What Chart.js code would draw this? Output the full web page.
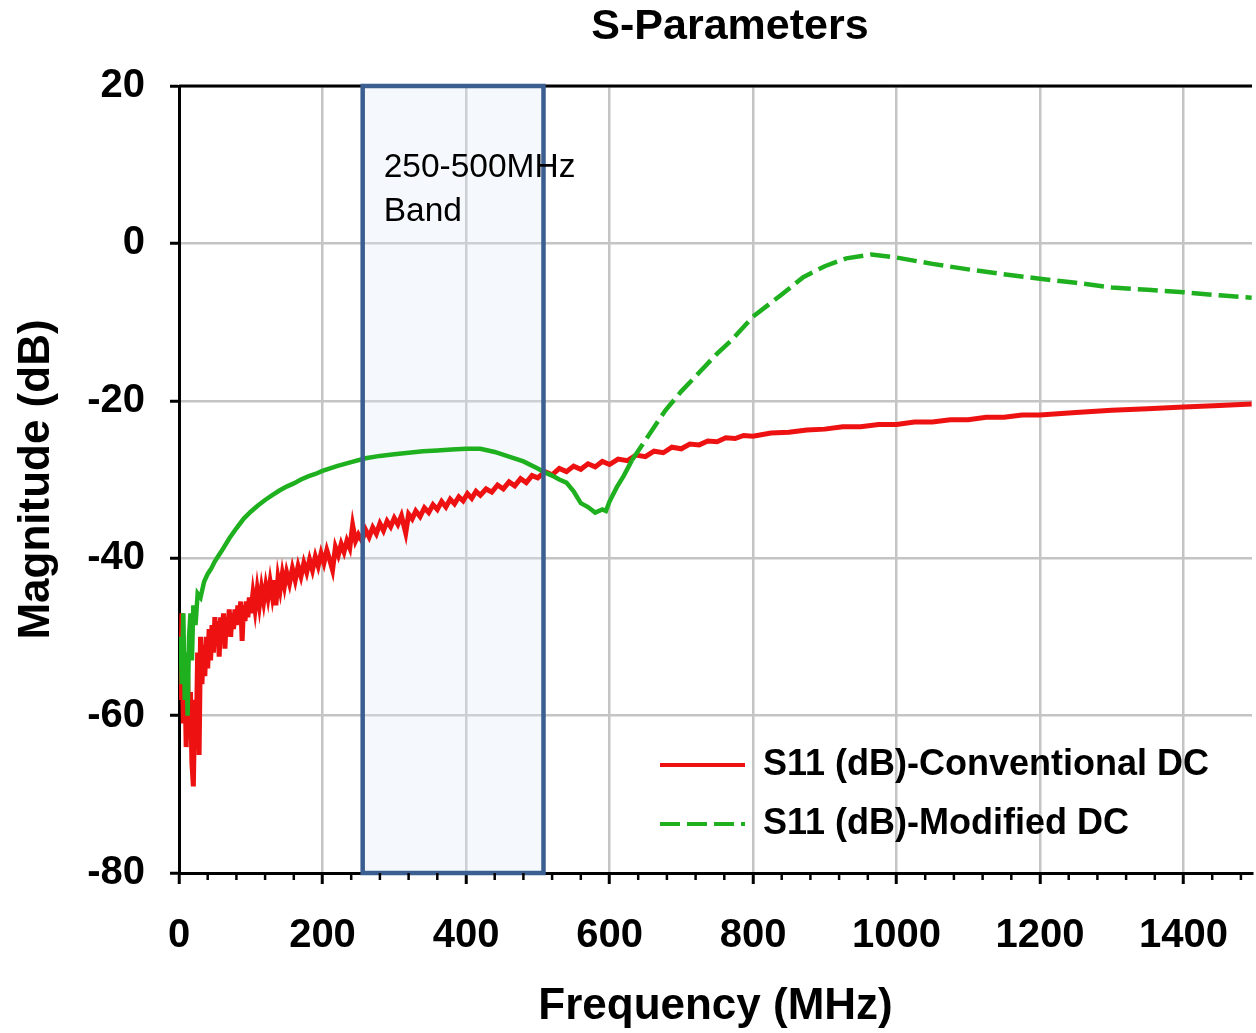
<!DOCTYPE html>
<html>
<head>
<meta charset="utf-8">
<title>S-Parameters</title>
<script src="https://cdn.jsdelivr.net/npm/chart.js@4.4.1/dist/chart.umd.min.js"></script>
<style>
  html, body { margin: 0; padding: 0; background: #fff; }
  #wrap { width: 1256px; height: 1033px; position: relative; }
</style>
</head>
<body>
<div id="wrap"><canvas id="sparamChart"></canvas></div>
<script>
// S11 (dB), frequency in MHz
var redFreq = [0, 2, 4, 6, 8, 10, 12, 14, 16, 18, 20, 22, 24, 26, 28, 30, 32, 34, 36, 38, 40, 42, 44, 46, 48,
	50, 52, 54, 56, 58, 60, 62, 64, 66, 68, 70, 72, 74, 76, 78, 80, 82, 84, 86, 88, 90, 92, 94, 96, 98,
	100, 103, 106, 109, 112, 115, 118, 121, 124, 127, 130, 133, 135, 138, 141, 144, 147,
	150, 154, 158, 162, 166, 170, 174, 178, 182, 186, 190, 194, 198,
	202, 206, 210, 214, 218, 222, 226, 230, 234, 238, 242, 246,
	250, 255, 260, 265, 270, 275, 280, 285, 290, 295, 300, 305, 310, 316, 320, 325, 330, 336, 342, 348,
	354, 360, 366, 372, 378, 384, 390, 396, 402, 408, 414, 420, 428, 436, 444, 452, 460, 468, 476, 484, 492,
	500, 510, 520, 530, 540, 550, 560, 570, 580, 590, 600, 612, 625, 637, 650, 662, 675, 687, 700, 712, 725, 737,
	750, 762, 775, 787, 800, 825, 850, 875, 900, 925, 950, 975, 1000, 1025, 1050, 1075, 1100, 1125, 1150, 1175,
	1200, 1250, 1300, 1350, 1400, 1450, 1495];
var redDb = [-52, -58, -47, -61, -53, -64, -55, -62, -57, -66, -69, -58, -63, -52, -65, -50, -56, -51, -55, -50, -54, -49, -53, -48.5, -52,
	-47.5, -51, -48, -52.5, -47.5, -50, -47, -51.5, -47.5, -49.5, -46.5, -50, -47, -49, -46.5, -48.5, -46, -48, -45.5, -50.5, -46, -48, -45.5, -47.5, -45,
	-47, -44.5, -46.5, -44, -46, -43.8, -45.5, -43.5, -45, -43, -44.8, -42.8, -46, -42.5, -44, -42, -43.5,
	-41.8, -43.2, -41.3, -42.8, -41, -42.3, -40.6, -41.8, -40.2, -41.5, -39.8, -41, -39.4,
	-40.6, -39, -40.2, -41.5, -38.6, -39.6, -38.2, -39.2, -37.8, -38.7, -35.8, -37.8,
	-37, -37.8, -36.4, -37.3, -36.1, -36.9, -35.6, -36.5, -35.3, -36, -34.9, -35.7, -34.6, -36.8, -34.4, -35, -34, -34.7, -33.6, -34.2,
	-33.2, -33.8, -32.8, -33.5, -32.5, -33.1, -32.2, -32.7, -31.8, -32.4, -31.5, -32, -31.2, -31.6, -30.7, -31.2, -30.3, -30.8, -29.9, -30.4, -29.5,
	-29.8, -29, -29.4, -28.6, -29, -28.3, -28.7, -28, -28.4, -27.7, -28.1, -27.4, -27.6, -26.9, -27.1, -26.4, -26.6, -25.9, -26.1, -25.5, -25.6, -25.1,
	-25.2, -24.7, -24.8, -24.4, -24.5, -24.1, -24, -23.7, -23.6, -23.3, -23.3, -23, -23, -22.7, -22.7, -22.4, -22.4, -22.1, -22.1, -21.8,
	-21.8, -21.5, -21.2, -21, -20.8, -20.6, -20.4];

var greenFreq = [0, 2, 4, 6, 8, 10, 12, 14, 16, 18, 20, 23, 26, 30, 35, 40, 45, 50, 55, 60, 70, 80, 90,
	100, 110, 120, 130, 140, 150, 160, 170, 180, 190, 200, 220, 240, 260, 280, 300, 320, 340, 360, 380, 400, 420, 440, 460, 480,
	500, 510, 520, 530, 540, 550, 560, 570, 580, 590, 595, 600, 610, 620, 631, 650, 678, 700, 724, 750, 770, 800, 840, 870, 900, 930, 965,
	1000, 1050, 1100, 1140, 1200, 1250, 1300, 1350, 1400, 1450, 1495];
var greenDb = [-53, -50, -56, -47, -58, -52, -60, -50, -47, -53, -46, -48.5, -44.5, -45, -43, -42, -41.3, -40.4, -39.7, -39, -37.5, -36.2, -35,
	-34.1, -33.3, -32.6, -32, -31.4, -30.9, -30.5, -30, -29.6, -29.3, -28.9, -28.3, -27.8, -27.3, -27, -26.8, -26.6, -26.4, -26.3, -26.2, -26.1, -26.1, -26.5, -27.1, -27.7,
	-28.6, -29.1, -29.5, -30, -30.4, -31.5, -33, -33.5, -34.2, -33.8, -34, -32.8, -31, -29.5, -27.6, -25, -21.2, -18.8, -16.5, -14, -12.3, -9.3, -6.5, -4.3, -2.9, -1.9, -1.4,
	-1.8, -2.6, -3.3, -3.8, -4.5, -5, -5.6, -5.9, -6.2, -6.6, -6.9];

var seriesLabels = ["S11 (dB)-Conventional DC", "S11 (dB)-Modified DC"];
var bandEdges = [256, 508];
var bandText = ["250-500MHz", "Band"];

var xMax = 1495.5, xStep = 200, xMinorStep = 40;
var yMin = -80, yMax = 20, yStep = 20;
var dashFrom = 631;

var RED = "#ee1111", GREEN = "#1fb01f";

function toPoints(xs, ys) {
	return xs.map(function (x, i) { return { x: x, y: ys[i] }; });
}

var extras = {
	id: "extras",
	beforeDatasetsDraw: function (chart) {
		var ctx = chart.ctx, area = chart.chartArea, sx = chart.scales.x;
		var l = sx.getPixelForValue(bandEdges[0]), r = sx.getPixelForValue(bandEdges[1]);
		ctx.save();
		ctx.fillStyle = "rgba(222,232,246,0.3)";
		ctx.fillRect(l, area.top, r - l, area.bottom - area.top);
		ctx.restore();
	},
	afterDatasetsDraw: function (chart) {
		var ctx = chart.ctx, area = chart.chartArea, sx = chart.scales.x;
		var l = sx.getPixelForValue(bandEdges[0]), r = sx.getPixelForValue(bandEdges[1]);
		ctx.save();
		// top frame line
		ctx.strokeStyle = "#000";
		ctx.lineWidth = 3;
		ctx.beginPath();
		ctx.moveTo(area.left, area.top);
		ctx.lineTo(area.right, area.top);
		ctx.stroke();
		// band box
		ctx.strokeStyle = "#3b5f90";
		ctx.lineWidth = 4.5;
		ctx.strokeRect(l, area.top, r - l, area.bottom - area.top);
		ctx.fillStyle = "#000";
		ctx.font = "33.5px 'Liberation Sans', Arial, sans-serif";
		ctx.textAlign = "left";
		ctx.textBaseline = "alphabetic";
		ctx.fillText(bandText[0], l + 21, area.top + 91);
		ctx.fillText(bandText[1], l + 21, area.top + 135);
		ctx.restore();
	},
	afterDraw: function (chart) {
		var ctx = chart.ctx, area = chart.chartArea, sx = chart.scales.x;
		ctx.save();
		// minor ticks
		ctx.strokeStyle = "#000";
		ctx.lineWidth = 2.5;
		for (var v = xMinorStep; v < xMax; v += xMinorStep) {
			if (v % xStep === 0) continue;
			var px = sx.getPixelForValue(v);
			ctx.beginPath();
			ctx.moveTo(px, area.bottom);
			ctx.lineTo(px, area.bottom + 7);
			ctx.stroke();
		}
		// title
		ctx.fillStyle = "#000";
		ctx.font = "bold 43px 'Liberation Sans', Arial, sans-serif";
		ctx.textAlign = "center";
		ctx.textBaseline = "middle";
		ctx.fillText("S-Parameters", 730, 27);
		// legend
		var lx = 660, tx = 763, rows = [765, 824];
		ctx.lineWidth = 4;
		ctx.strokeStyle = RED;
		ctx.beginPath(); ctx.moveTo(lx, rows[0]); ctx.lineTo(lx + 85, rows[0]); ctx.stroke();
		ctx.strokeStyle = GREEN;
		ctx.setLineDash([20, 7]);
		ctx.beginPath(); ctx.moveTo(lx, rows[1]); ctx.lineTo(lx + 85, rows[1]); ctx.stroke();
		ctx.setLineDash([]);
		ctx.font = "bold 36px 'Liberation Sans', Arial, sans-serif";
		ctx.textAlign = "left";
		ctx.fillText(seriesLabels[0], tx, rows[0]);
		ctx.fillText(seriesLabels[1], tx, rows[1]);
		ctx.restore();
	}
};

var tickFont = { family: "'Liberation Sans', Arial, sans-serif", size: 40, weight: "bold" };
var titleFont = { family: "'Liberation Sans', Arial, sans-serif", size: 44, weight: "bold" };

var ctx = document.getElementById("sparamChart");
var sparamChart = new Chart(ctx, {
	type: "line",
	data: {
		datasets: [
			{
				label: seriesLabels[1],
				data: toPoints(greenFreq, greenDb),
				borderColor: GREEN,
				borderWidth: 4.5,
				pointRadius: 0,
				tension: 0,
				order: 0,
				segment: {
					borderDash: function (c) { return c.p0.parsed.x >= dashFrom ? [20, 7] : undefined; }
				}
			},
			{
				label: seriesLabels[0],
				data: toPoints(redFreq, redDb),
				borderColor: RED,
				borderWidth: 5,
				pointRadius: 0,
				tension: 0,
				order: 1
			}
		]
	},
	options: {
		responsive: true,
		maintainAspectRatio: false,
		animation: false,
		layout: { padding: { top: 86, right: 0, bottom: 0, left: 0 } },
		plugins: {
			legend: { display: false },
			title: { display: false },
			tooltip: { enabled: false }
		},
		scales: {
			x: {
				type: "linear",
				min: 0,
				max: xMax,
				afterFit: function (scale) { scale.height = 160; },
				ticks: {
					stepSize: xStep,
					includeBounds: false,
					autoSkip: false,
					maxRotation: 0,
					padding: 28,
					color: "#000",
					font: tickFont,
					callback: function (v) { return String(v); }
				},
				grid: { color: "#c4c4c4", lineWidth: 2.5, tickColor: "#000", tickLength: 11, tickWidth: 3 },
				border: { display: true, color: "#000", width: 3 },
				title: { display: true, text: "Frequency (MHz)", color: "#000", font: titleFont, padding: { top: 0, bottom: 0 } }
			},
			y: {
				min: yMin,
				max: yMax,
				afterFit: function (scale) { scale.width = 179; },
				ticks: {
					stepSize: yStep,
					padding: 25,
					color: "#000",
					font: tickFont,
					callback: function (v) { return String(v); }
				},
				grid: { color: "#c4c4c4", lineWidth: 2.5, tickColor: "#000", tickLength: 9, tickWidth: 3 },
				border: { display: true, color: "#000", width: 3 },
				title: { display: true, text: "Magnitude (dB)", color: "#000", font: titleFont, padding: { top: 10, bottom: 0 } }
			}
		}
	},
	plugins: [extras]
});
</script>
</body>
</html>
